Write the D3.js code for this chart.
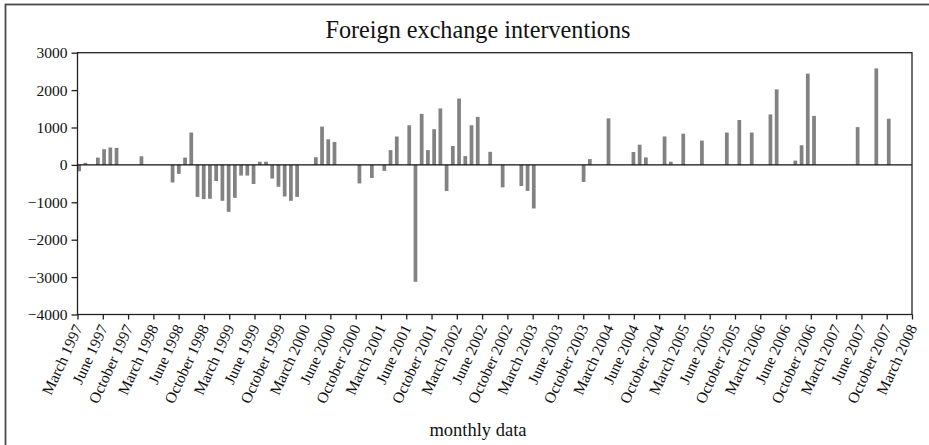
<!DOCTYPE html>
<html>
<head>
<meta charset="utf-8">
<script src="https://cdn.jsdelivr.net/npm/d3@7"></script>
<style>
  body { margin: 0; background: #fff; }
</style>
</head>
<body>
<div id="chart"></div>
<script>
// month by month, March 1997 .. April 2008
let startMonth = new Date(1997, 2, 1);
let endMonth = new Date(2008, 4, 1);

// interventions (millions), one value per month, 0 = no intervention
let values = [
  -170, 55, 0, 195, 420, 465, 455, 0, 0, 0,                       // 1997 Mar-Dec
  230, 0, 0, 0, 0, -470, -240, 195, 865, -855, -915, -905,        // 1998
  -430, -960, -1255, -880, -285, -285, -510, 85, 85, -365, -585, -845, // 1999
  -960, -855, 0, 0, 205, 1025, 685, 615, 0, 0, 0, -495,           // 2000
  0, -350, 0, -160, 395, 760, 0, 1060, -3125, 1365, 395, 955,     // 2001
  1510, -700, 505, 1775, 235, 1060, 1285, 0, 350, 0, -600, 0,     // 2002
  0, -565, -695, -1165, 0, 0, 0, 0, 0, 0, 0, -455,                // 2003
  155, 0, 0, 1245, 0, 0, 0, 345, 540, 200, 0, 0,                  // 2004
  760, 85, 0, 835, 0, 0, 650, 0, 0, 0, 865, 0,                    // 2005
  1200, 0, 865, 0, 0, 1350, 2020, 0, 0, 115, 525, 2440,           // 2006
  1310, 0, 0, 0, 0, 0, 0, 1010, 0, 0, 2580, 0,                    // 2007
  1235, 0, 0, 0                                                   // 2008 Jan-Apr
];

let tickLabels = [
  "March 1997", "June 1997", "October 1997", "March 1998", "June 1998", "October 1998",
  "March 1999", "June 1999", "October 1999", "March 2000", "June 2000", "October 2000",
  "March 2001", "June 2001", "October 2001", "March 2002", "June 2002", "October 2002",
  "March 2003", "June 2003", "October 2003", "March 2004", "June 2004", "October 2004",
  "March 2005", "June 2005", "October 2005", "March 2006", "June 2006", "October 2006",
  "March 2007", "June 2007", "October 2007", "March 2008"
];
let yTicks = [3000, 2000, 1000, 0, -1000, -2000, -3000, -4000];

let titleText = "Foreign exchange interventions";
let xTitle = "monthly data";

let FONT = "'Liberation Serif', Tinos, 'Times New Roman', serif";
let W = 929, H = 445;
let margin = {left: 77.5, top: 52.7, right: 17, bottom: 130.5};
let w = W - margin.left - margin.right;
let h = H - margin.top - margin.bottom;

let months = d3.timeMonth.range(startMonth, endMonth);
let data = months.map((m, i) => ({month: m, value: values[i]}));

let svg = d3.select("#chart").append("svg")
  .attr("width", W)
  .attr("height", H);

// outer frame
svg.append("rect")
  .attr("x", 5.5).attr("y", 4.5)
  .attr("width", W + 20).attr("height", H + 20)
  .attr("fill", "none")
  .attr("stroke", "#4a4a4a")
  .attr("stroke-width", 1.8);

svg.append("text")
  .attr("x", 478).attr("y", 38)
  .attr("text-anchor", "middle")
  .style("font-family", FONT)
  .style("font-size", "24.2px")
  .attr("fill", "#111")
  .text(titleText);

let g = svg.append("g").attr("transform", `translate(${margin.left},${margin.top})`);

let x = d3.scaleBand().domain(months).range([0, w]).padding(0);
let xTick = d3.scalePoint().domain(tickLabels).range([0, w]);
let y = d3.scaleLinear().domain([-4000, 3000]).range([h, 0]);

// bars
g.selectAll(".bar")
  .data(data.filter(d => d.value !== 0))
  .enter()
  .append("rect")
  .attr("class", "bar")
  .attr("x", d => x(d.month) - 0.2)
  .attr("width", x.bandwidth() * 0.6)
  .attr("y", d => y(Math.max(0, d.value)))
  .attr("height", d => Math.abs(y(d.value) - y(0)))
  .attr("fill", "#828282");

// zero line
g.append("line")
  .attr("x1", 0).attr("x2", w)
  .attr("y1", y(0)).attr("y2", y(0))
  .attr("stroke", "#111")
  .attr("stroke-width", 1.2);

// plot frame
g.append("rect")
  .attr("x", 0).attr("y", 0)
  .attr("width", w).attr("height", h)
  .attr("fill", "none")
  .attr("stroke", "#222")
  .attr("stroke-width", 1.3);

// y axis
let yAxis = g.append("g")
  .attr("font-family", null)
  .call(d3.axisLeft(y).tickValues(yTicks).tickSize(6).tickPadding(4).tickFormat(d3.format("d")));
yAxis.attr("font-family", FONT);
yAxis.select(".domain").remove();
yAxis.selectAll("line").attr("stroke", "#222").attr("stroke-width", 1.3);
yAxis.selectAll("text")
  .style("font-family", FONT)
  .style("font-size", "15.5px")
  .attr("fill", "#111");

// x axis
let xAxis = g.append("g")
  .attr("transform", `translate(0,${h})`)
  .call(d3.axisBottom(xTick).tickSize(5).tickFormat(""));
xAxis.select(".domain").remove();
xAxis.selectAll("line").attr("stroke", "#222").attr("stroke-width", 1.3);

g.selectAll(".xlab")
  .data(tickLabels)
  .enter()
  .append("text")
  .attr("class", "xlab")
  .attr("transform", d => `translate(${xTick(d) + 0.5},${h + 11}) rotate(-65)`)
  .attr("text-anchor", "end")
  .attr("dy", "0.35em")
  .style("font-family", FONT)
  .style("font-size", "15.5px")
  .attr("fill", "#111")
  .text(d => d);

svg.append("text")
  .attr("x", 478).attr("y", 436)
  .attr("text-anchor", "middle")
  .style("font-family", FONT)
  .style("font-size", "18.5px")
  .attr("fill", "#111")
  .text(xTitle);
</script>
</body>
</html>
